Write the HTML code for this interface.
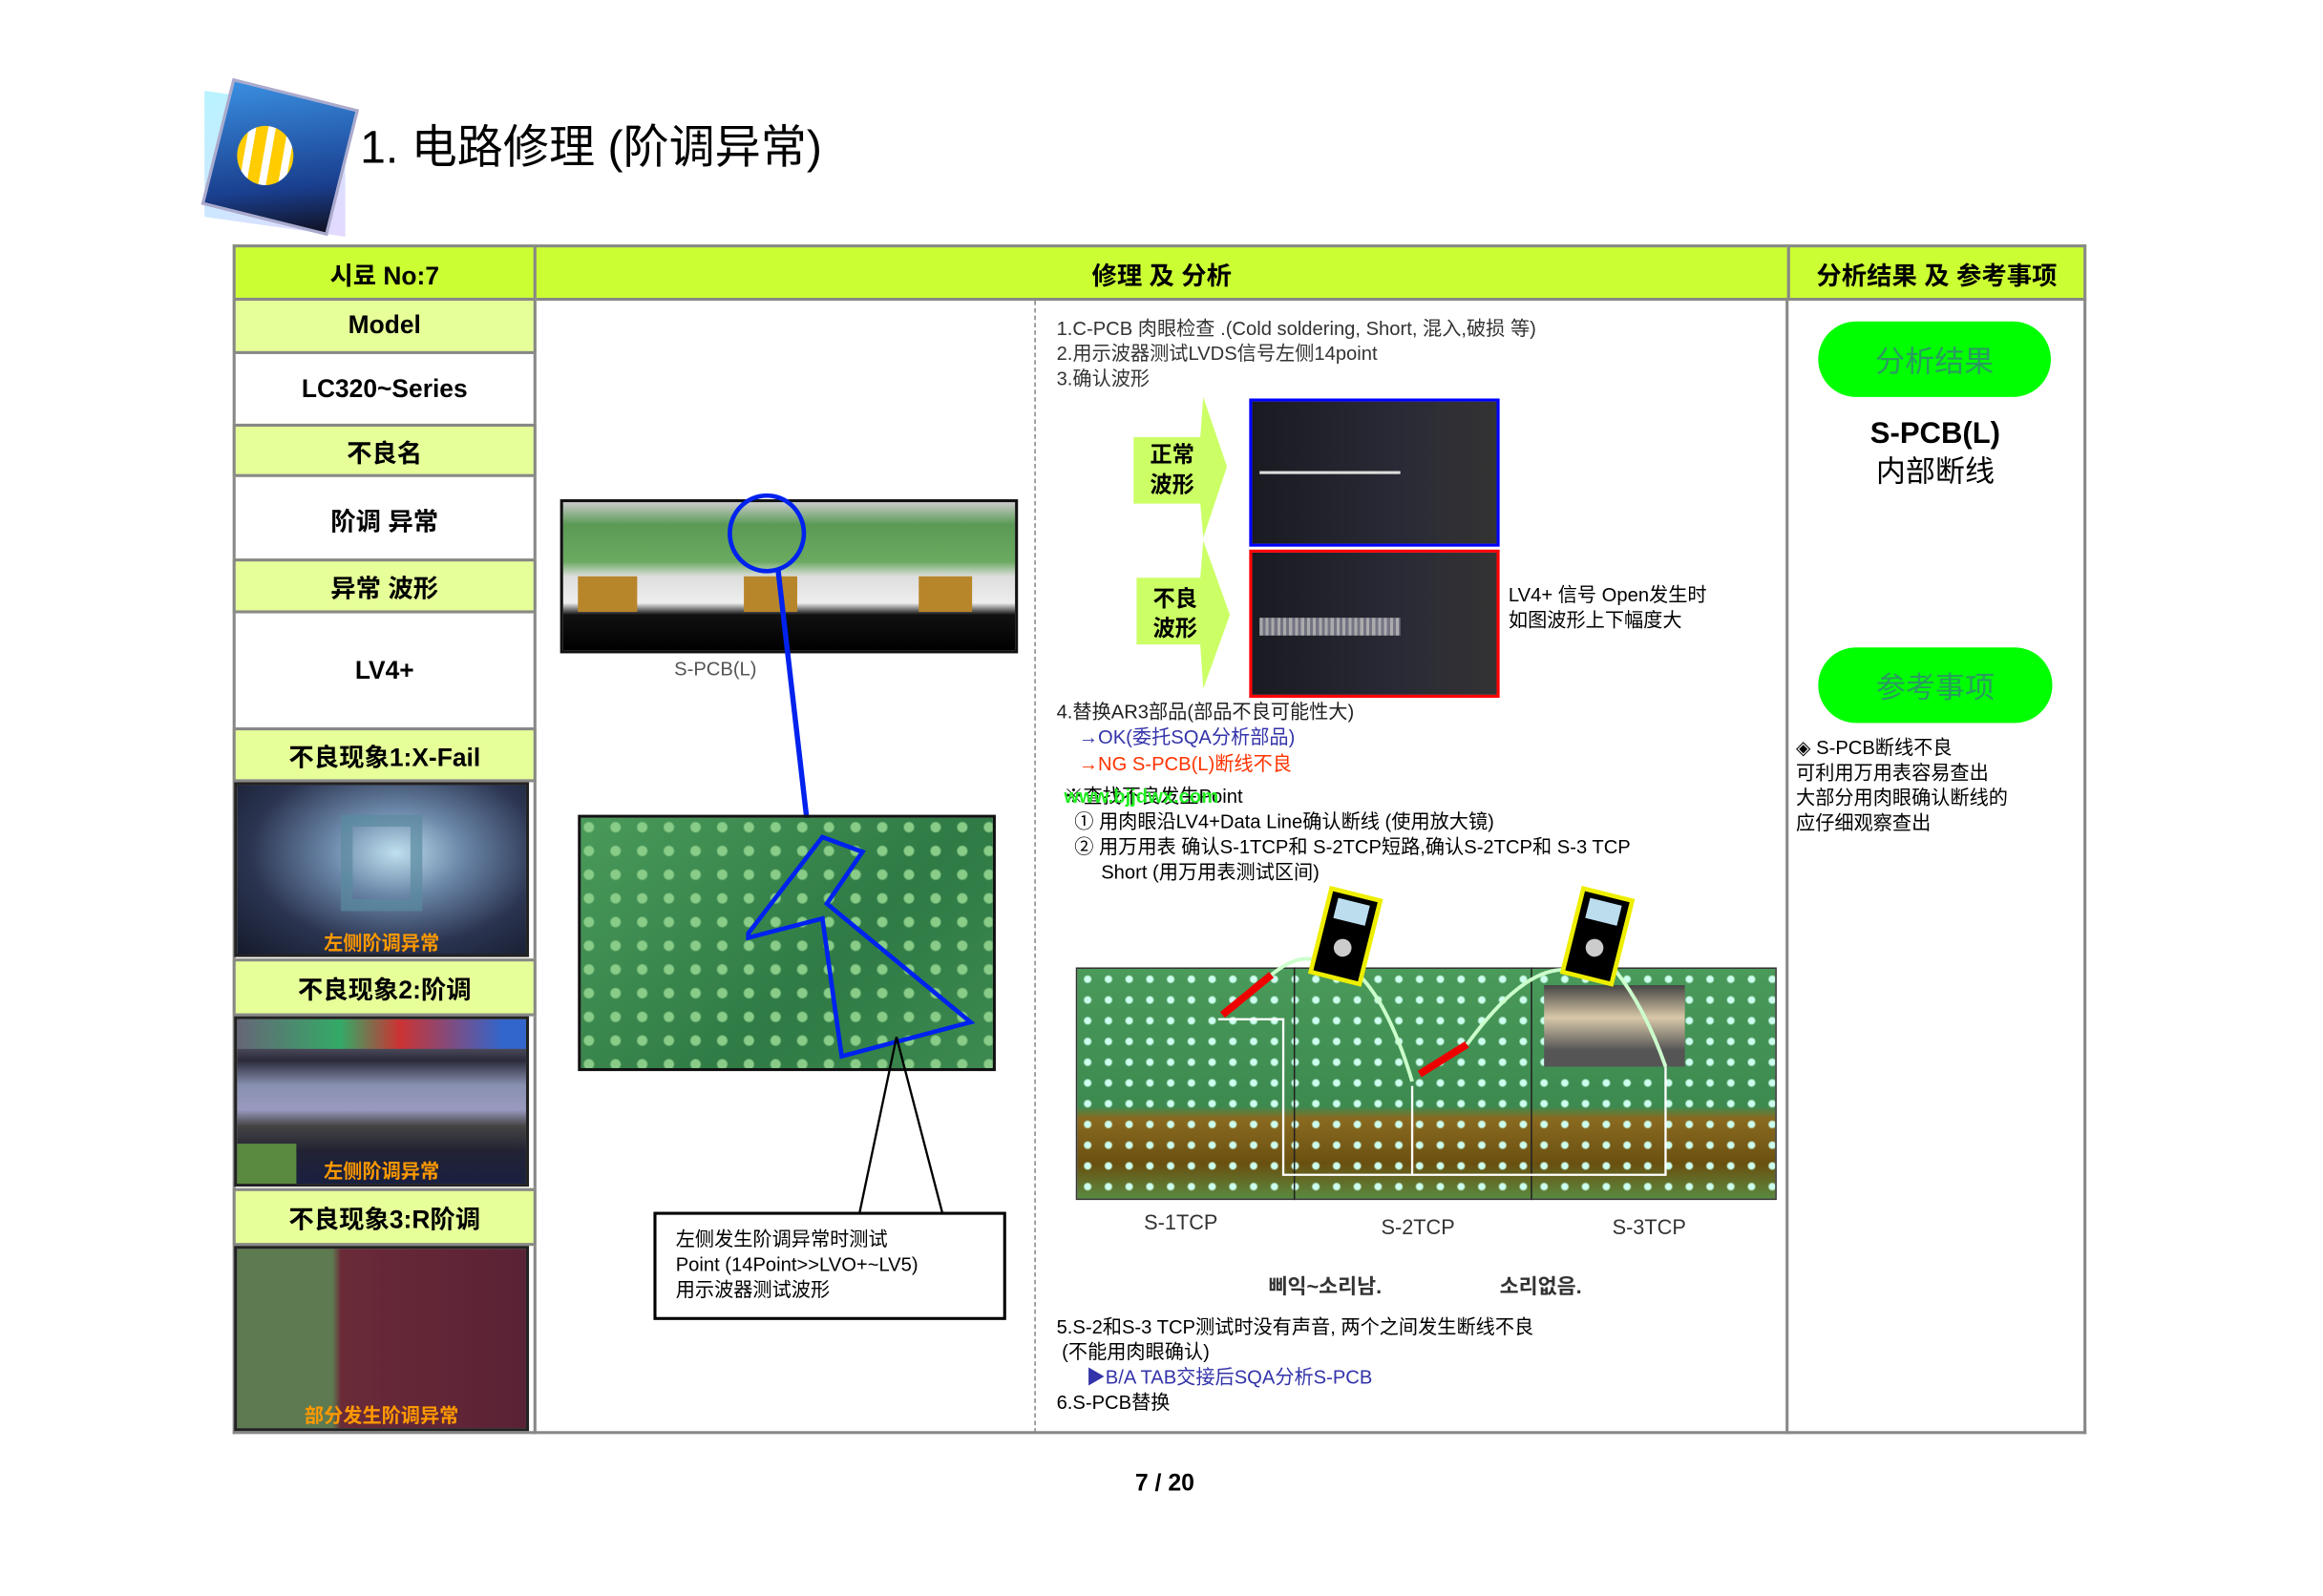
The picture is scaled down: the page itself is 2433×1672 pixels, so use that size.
<!DOCTYPE html>
<html><head><meta charset="utf-8"><style>
html,body{margin:0;padding:0;background:#fff;width:2433px;height:1671px;overflow:hidden}
#w{position:absolute;left:0;top:0;width:1570px;height:1077px;transform:scale(1.552);transform-origin:0 0;font-family:"Liberation Sans","Noto Sans CJK SC",sans-serif;color:#000}
.a{position:absolute;box-sizing:border-box}
.c{display:flex;align-items:center;justify-content:center;text-align:center}
.h{background:#ccff33;border:2px solid #888;font-weight:bold;font-size:17px}
.l{background:#e6ff99;border:2px solid #888;font-weight:bold;font-size:17px}
.t{position:absolute;font-size:13px;line-height:17px;white-space:nowrap}
.cap{position:absolute;left:0;right:0;text-align:center;color:#ff9900;font-weight:bold;font-size:13px}
.pill{background:#00ff00;border-radius:26px;color:#2a9a60;font-size:20px}
</style></head><body><div id="w">
<div class="a" style="left:138px;top:68px;width:95px;height:85px;background:linear-gradient(135deg,#9ef 0%,#d9c7ff 100%);transform:skewY(8deg);opacity:.7"></div>
<div class="a" style="left:145px;top:62px;width:88px;height:88px;background:linear-gradient(160deg,#3a8ee0,#1a3f8f 70%,#112 100%);transform:rotate(14deg);border:2px solid #aac"></div>
<div class="a" style="left:160px;top:85px;width:38px;height:40px;border-radius:50%;background:repeating-linear-gradient(100deg,#ffcc00 0 8px,#fff 8px 13px)"></div>
<div class="t" style="left:243px;top:80px;font-size:31px;line-height:40px">1. 电路修理 (阶调异常)</div>

<div class="a h c" style="left:157px;top:165px;width:205px;height:38px">시료 No:7</div>
<div class="a h c" style="left:360px;top:165px;width:848px;height:38px">修理 及 分析</div>
<div class="a h c" style="left:1206px;top:165px;width:202px;height:38px">分析结果 及 参考事项</div>
<div class="a" style="left:157px;top:201px;width:1251px;height:767px;border:2px solid #888;border-top:none"></div>
<div class="a" style="left:360px;top:201px;width:2px;height:767px;background:#888"></div>
<div class="a" style="left:698px;top:203px;width:0;height:764px;border-left:1px dashed #888"></div>
<div class="a" style="left:1205px;top:201px;width:2px;height:767px;background:#888"></div>

<div class="a l c" style="left:157px;top:201px;width:205px;height:38px">Model</div>
<div class="a c" style="left:157px;top:239px;width:205px;height:48px;font-weight:bold;font-size:17px">LC320~Series</div>
<div class="a l c" style="left:157px;top:286px;width:205px;height:36px">不良名</div>
<div class="a c" style="left:157px;top:322px;width:205px;height:56px;font-weight:bold;font-size:17px">阶调 异常</div>
<div class="a l c" style="left:157px;top:377px;width:205px;height:37px">异常 波形</div>
<div class="a c" style="left:157px;top:414px;width:205px;height:78px;font-weight:bold;font-size:17px">LV4+</div>
<div class="a l c" style="left:157px;top:491px;width:205px;height:37px">不良现象1:X-Fail</div>
<div class="a" style="left:158px;top:528px;width:199px;height:118px;border:2px solid #222;background:radial-gradient(ellipse at 55% 40%,#bfe0ee 0%,#6a86a8 30%,#2b3450 65%,#141a2c 100%)">
<div class="a" style="left:70px;top:20px;width:55px;height:65px;border:8px solid #5a8aa0;opacity:.7"></div>
<div class="cap" style="top:96px">左侧阶调异常</div></div>
<div class="a l c" style="left:157px;top:647px;width:205px;height:39px">不良现象2:阶调</div>
<div class="a" style="left:158px;top:686px;width:199px;height:115px;border:2px solid #222;background:linear-gradient(180deg,#445 0%,#556 15%,#2a2a3a 25%,#8890b0 40%,#9a9ac0 55%,#444 65%,#223 80%,#1a2040 100%);overflow:hidden">
<div class="a" style="left:0;top:0;width:199px;height:20px;background:linear-gradient(90deg,#667 0%,#3a6 35%,#c33 55%,#36c 90%)"></div>
<div class="a" style="left:0;top:84px;width:40px;height:30px;background:#5a8a40"></div>
<div class="cap" style="top:92px">左侧阶调异常</div></div>
<div class="a l c" style="left:157px;top:802px;width:205px;height:39px">不良现象3:R阶调</div>
<div class="a" style="left:158px;top:841px;width:199px;height:125px;border:2px solid #222;background:linear-gradient(90deg,#5e7a50 0%,#5e7a50 33%,#6a2a38 36%,#5a2236 100%)">
<div class="cap" style="top:102px">部分发生阶调异常</div></div>

<div class="a" style="left:378px;top:337px;width:309px;height:104px;border:2px solid #111;background:linear-gradient(180deg,#ccc 0%,#5a9a55 15%,#6aaa60 40%,#ddd 50%,#eee 68%,#111 76%,#000 100%)">
<div class="a" style="left:10px;top:50px;width:40px;height:24px;background:#b8862a"></div>
<div class="a" style="left:122px;top:50px;width:36px;height:24px;background:#b8862a"></div>
<div class="a" style="left:240px;top:50px;width:36px;height:24px;background:#b8862a"></div></div>
<div class="a" style="left:491px;top:333px;width:53px;height:54px;border:3px solid #0022ee;border-radius:50%"></div>
<div class="t" style="left:455px;top:443px;color:#555;font-size:13px">S-PCB(L)</div>
<svg class="a" style="left:0;top:0" width="1570" height="1077">
<line x1="525" y1="384" x2="547" y2="575" stroke="#0022ee" stroke-width="3.5"/>
</svg>
<div class="a" style="left:390px;top:550px;width:282px;height:173px;border:2px solid #111;background:radial-gradient(circle at 30% 40%,#8c8 0 3px,transparent 4px) 0 0/18px 16px,linear-gradient(135deg,#4a9a5a,#2f7a45 60%,#3d8a50)"></div>
<svg class="a" style="left:0;top:0" width="1570" height="1077">
<polygon points="505,630 555,565 582,575 558,610 655,690 568,713 555,620 505,633" fill="none" stroke="#0022ee" stroke-width="3"/>
<polyline points="580,819 605,700 636,819" fill="none" stroke="#000" stroke-width="1.5"/>
</svg>
<div class="a" style="left:441px;top:818px;width:238px;height:73px;border:2px solid #000;background:#fff"></div>
<div class="t" style="left:456px;top:828px">左侧发生阶调异常时测试<br>Point (14Point&gt;&gt;LVO+~LV5)<br>用示波器测试波形</div>

<div class="t" style="left:713px;top:213px;color:#333">1.C-PCB 肉眼检查 .(Cold soldering, Short, 混入,破损 等)<br>2.用示波器测试LVDS信号左侧14point<br>3.确认波形</div>
<svg class="a" style="left:0;top:0" width="1570" height="1077">
<polygon points="765,295 810,295 812,268 828,315 812,363 810,340 765,340" fill="#ccff66"/>
<polygon points="767,390 810,390 812,365 830,415 812,465 810,435 767,435" fill="#ccff66"/>
</svg>
<div class="t" style="left:776px;top:298px;font-weight:bold;font-size:15px;line-height:20px">正常<br>波形</div>
<div class="t" style="left:778px;top:395px;font-weight:bold;font-size:15px;line-height:20px">不良<br>波形</div>
<div class="a" style="left:843px;top:269px;width:169px;height:100px;border:2px solid #0000ff;background:linear-gradient(90deg,#1a1a22,#2a2a36 60%,#333 100%)">
<div class="a" style="left:5px;top:47px;width:95px;height:2px;background:#ddd"></div></div>
<div class="a" style="left:843px;top:371px;width:169px;height:100px;border:2px solid #ff0000;background:linear-gradient(90deg,#1a1a22,#2a2a36 60%,#333 100%)">
<div class="a" style="left:5px;top:44px;width:95px;height:12px;background:repeating-linear-gradient(90deg,#ccc 0 2px,#889 2px 4px);opacity:.8"></div></div>
<div class="t" style="left:1018px;top:393px">LV4+ 信号 Open发生时<br>如图波形上下幅度大</div>
<div class="t" style="left:713px;top:472px;color:#222">4.替换AR3部品(部品不良可能性大)</div>
<div class="t" style="left:728px;top:489px;color:#3333aa">→OK(委托SQA分析部品)</div>
<div class="t" style="left:728px;top:507px;color:#ff3300">→NG S-PCB(L)断线不良</div>
<div class="t" style="left:718px;top:529px">※查找不良发生Point</div>
<div class="t" style="left:718px;top:529px;color:#22ee22;font-weight:bold">www.bjjdwx.com</div>
<div class="t" style="left:725px;top:546px">① 用肉眼沿LV4+Data Line确认断线 (使用放大镜)<br>② 用万用表 确认S-1TCP和 S-2TCP短路,确认S-2TCP和 S-3 TCP<br>&nbsp;&nbsp;&nbsp;&nbsp;&nbsp;Short (用万用表测试区间)</div>
<div class="a" style="left:726px;top:653px;width:473px;height:157px;border:1px solid #333;background:radial-gradient(circle,#cfe 0 2px,transparent 3px) 0 0/14px 14px,linear-gradient(180deg,#4a9a5a 0%,#3d8a50 60%,#8a6a20 65%,#6a5010 85%,#5a8a40 100%)"></div>
<div class="a" style="left:1042px;top:665px;width:95px;height:55px;background:linear-gradient(180deg,#444,#d8c8a8 40%,#555 80%)"></div>
<div class="a" style="left:873px;top:653px;width:1px;height:157px;background:#222"></div>
<div class="a" style="left:1033px;top:653px;width:1px;height:157px;background:#222"></div>
<svg class="a" style="left:0;top:0" width="1570" height="1077">
<polyline points="822,688 866,688 866,793 1124,793 1124,720" fill="none" stroke="#fff" stroke-width="1.5"/>
<line x1="953" y1="733" x2="953" y2="793" stroke="#fff" stroke-width="1.5"/>
<line x1="825" y1="685" x2="858" y2="658" stroke="#e00" stroke-width="5"/>
<line x1="958" y1="725" x2="990" y2="705" stroke="#e00" stroke-width="5"/>
<path d="M858 658 Q880 640 895 652 M910 652 Q935 670 953 730 M990 705 Q1030 650 1060 655 M1090 655 Q1110 680 1124 720" fill="none" stroke="#cfc" stroke-width="2.5"/>
<g transform="rotate(14 908 632)"><rect x="891" y="603" width="34" height="58" fill="#000" stroke="#ee0" stroke-width="3"/><rect x="897" y="608" width="22" height="14" fill="#bde"/><circle cx="908" cy="640" r="6" fill="#ccc"/></g>
<g transform="rotate(14 1078 632)"><rect x="1061" y="603" width="34" height="58" fill="#000" stroke="#ee0" stroke-width="3"/><rect x="1067" y="608" width="22" height="14" fill="#bde"/><circle cx="1078" cy="640" r="6" fill="#ccc"/></g>
</svg>
<div class="t" style="left:772px;top:817px;font-size:14px;color:#333">S-1TCP</div>
<div class="t" style="left:932px;top:820px;font-size:14px;color:#333">S-2TCP</div>
<div class="t" style="left:1088px;top:820px;font-size:14px;color:#333">S-3TCP</div>
<div class="t" style="left:856px;top:860px;font-size:14px;font-weight:bold;color:#333">삐익~소리남.</div>
<div class="t" style="left:1012px;top:860px;font-size:14px;font-weight:bold;color:#333">소리없음.</div>
<div class="t" style="left:713px;top:887px">5.S-2和S-3 TCP测试时没有声音, 两个之间发生断线不良<br>&nbsp;(不能用肉眼确认)</div>
<div class="t" style="left:733px;top:921px;color:#3333aa">▶B/A TAB交接后SQA分析S-PCB</div>
<div class="t" style="left:713px;top:938px">6.S-PCB替换</div>

<div class="a pill c" style="left:1227px;top:217px;width:157px;height:51px">分析结果</div>
<div class="t" style="left:1206px;top:280px;width:200px;text-align:center;font-size:20px;line-height:26px;font-weight:bold">S-PCB(L)<br><span style="font-weight:normal">内部断线</span></div>
<div class="a pill c" style="left:1227px;top:437px;width:158px;height:51px">参考事项</div>
<div class="t" style="left:1212px;top:496px">◈ S-PCB断线不良<br>可利用万用表容易查出<br>大部分用肉眼确认断线的<br>应仔细观察查出</div>

<div class="t" style="left:766px;top:993px;font-size:16px;font-weight:bold">7 / 20</div>
</div></body></html>
